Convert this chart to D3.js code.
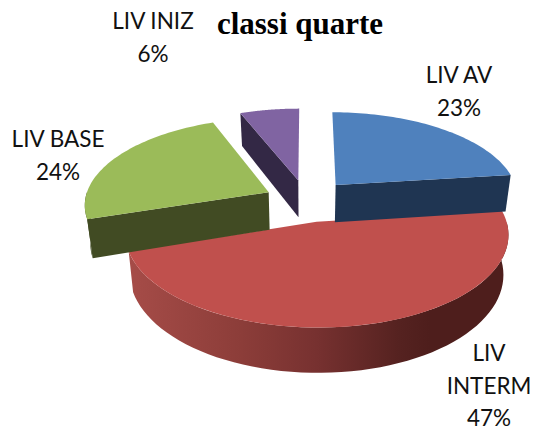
<!DOCTYPE html>
<html>
<head>
<meta charset="utf-8">
<script src="https://cdn.jsdelivr.net/npm/d3@7"></script>
<style>
  html, body { margin: 0; padding: 0; background: #fff; overflow: hidden; }
  svg { display: block; }
</style>
</head>
<body>
<svg width="535" height="430"></svg>
<script>
// Chart data
const title = "classi quarte";
const categories = ["LIV AV", "LIV INTERM", "LIV BASE", "LIV INIZ"];
const values = [23, 47, 24, 6];
const topColors = ["#4f81bd", "#c0504d", "#9bbb59", "#8064a2"];
const sideColors = ["#1f3552", "#7a3230", "#414b23", "#332845"];

// Label lines as they wrap in the picture
const labelLines = [["LIV AV", "23%"], ["LIV", "INTERM", "47%"], ["LIV BASE", "24%"], ["LIV INIZ", "6%"]];
const labelPos = [[459, 83], [489, 361], [58, 147], [153, 29]];

let svg = d3.select("svg");

// Set up the fake 3D projection
const cx = 306.5, cy = 200.5;
const radiusX = 184, radiusY = 86;
const persp = 0.13, depth = 38, shrink = 0.025;
const explode = [0.245, 0.245, 0.23, 0.245];

function project(x, y, z) {
  let s = 1 / (1 - persp * y);
  let k = 1 - shrink * z;
  return [cx + radiusX * x * s * k, cy + radiusY * y * s + depth * z * s];
}

let pie = d3.pie().sort(null).startAngle(0).endAngle(2 * Math.PI);
let arcs = pie(values);
let line = d3.line();

// Point on a slice: r is the fraction of the radius, a the angle clockwise from the top
function slicePoint(d, r, a, z) {
  let mid = (d.startAngle + d.endAngle) / 2;
  let x = explode[d.index] * Math.sin(mid) + r * Math.sin(a);
  let y = -explode[d.index] * Math.cos(mid) - r * Math.cos(a);
  return project(x, y, z);
}

function arcPoints(d, a0, a1, z) {
  return d3.range(0, 61).map(i => slicePoint(d, 1, a0 + (a1 - a0) * i / 60, z));
}

// Shading on the outer wall of the big slice
let defs = svg.append("defs");
let grad = defs.append("linearGradient")
    .attr("id", "rim")
    .attr("gradientUnits", "userSpaceOnUse")
    .attr("x1", 128).attr("x2", 505).attr("y1", 0).attr("y2", 0);
grad.selectAll("stop")
  .data([[0, "#a64c48"], [0.3, "#8c3d39"], [0.5, "#773130"], [0.72, "#552220"], [0.8, "#4e1e1c"], [1, "#4e1e1c"]])
  .enter().append("stop")
    .attr("offset", d => d[0])
    .attr("stop-color", d => d[1]);

let chart = svg.append("g").style("filter", "blur(0.4px)");

// Red goes first, the picture has the other slices sitting over it
[1, 3, 0, 2].forEach(i => {
  let d = arcs[i];
  let g = chart.append("g");
  let side = i === 1 ? "url(#rim)" : sideColors[i];

  // Outer wall, only the part that faces the viewer
  let a0 = Math.max(d.startAngle, Math.PI / 2);
  let a1 = Math.min(d.endAngle, 3 * Math.PI / 2);
  if (a1 > a0) {
    let pts = arcPoints(d, a0, a1, 0).concat(arcPoints(d, a0, a1, 1).reverse());
    g.append("path").attr("d", line(pts) + "Z").attr("fill", side);
  }

  // Cut walls that face the viewer
  [d.startAngle, d.endAngle].forEach((a, j) => {
    let facing = j === 0 ? Math.sin(a) < -1e-6 : Math.sin(a) > 1e-6;
    if (!facing) return;
    let pts = [slicePoint(d, 0, a, 0), slicePoint(d, 1, a, 0), slicePoint(d, 1, a, 1), slicePoint(d, 0, a, 1)];
    g.append("path").attr("d", line(pts) + "Z").attr("fill", sideColors[i]);
  });

  // Top face
  let top = [slicePoint(d, 0, d.startAngle, 0)].concat(arcPoints(d, d.startAngle, d.endAngle, 0));
  g.append("path").attr("d", line(top) + "Z").attr("fill", topColors[i]);
});

// Title
svg.append("text")
    .attr("x", 300)
    .attr("y", 34)
    .attr("text-anchor", "middle")
    .style("font-family", "'Liberation Serif'")
    .style("font-weight", "bold")
    .style("font-size", "31px")
    .style("fill", "#000")
    .text(title);

// Data labels
labelLines.forEach((lines, i) => {
  svg.append("text")
      .attr("text-anchor", "middle")
      .style("font-family", "Lato")
      .style("font-size", "22.5px")
      .style("fill", "#111")
    .selectAll("tspan")
    .data(lines)
    .enter().append("tspan")
      .attr("x", labelPos[i][0])
      .attr("y", (l, k) => labelPos[i][1] + k * 32.5)
      .text(l => l);
});
</script>
</body>
</html>
